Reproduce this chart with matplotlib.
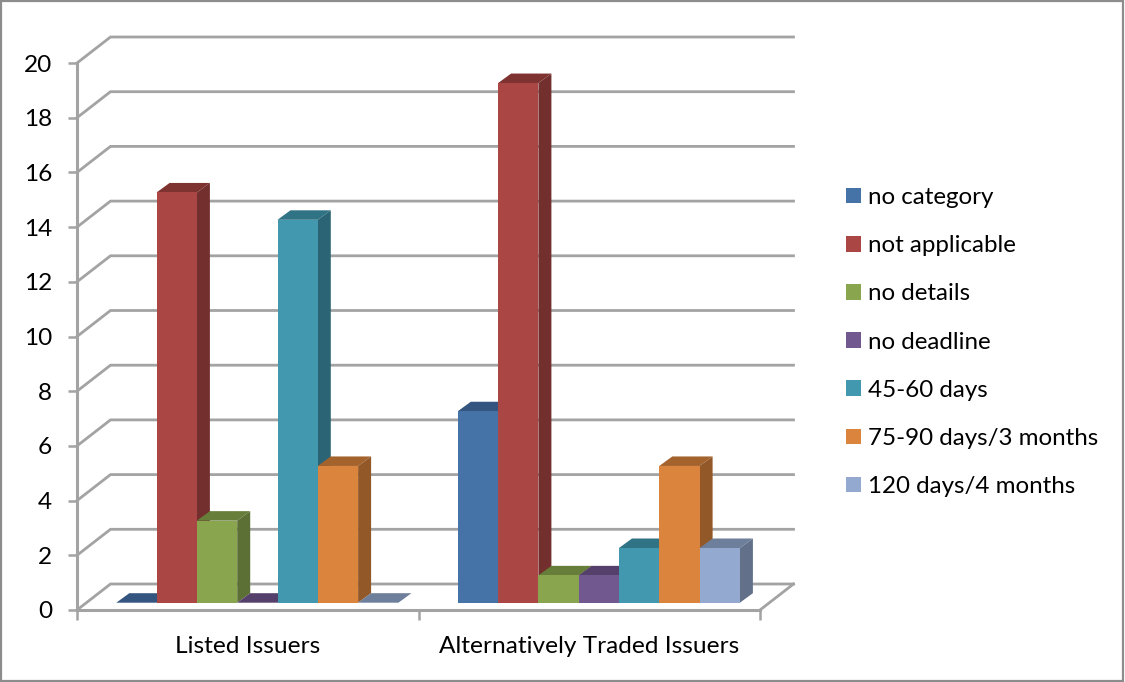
import matplotlib
matplotlib.use("Agg")
import matplotlib.pyplot as plt
from matplotlib.patches import Rectangle

categories = ["Listed Issuers", "Alternatively Traded Issuers"]
series_names = ["no category", "not applicable", "no details", "no deadline",
                "45-60 days", "75-90 days/3 months", "120 days/4 months"]
no_category = [0, 7]
not_applicable = [15, 19]
no_details = [3, 1]
no_deadline = [0, 1]
days_45_60 = [14, 2]
days_75_90 = [5, 5]
days_120 = [0, 2]
y_ticks = [0, 2, 4, 6, 8, 10, 12, 14, 16, 18, 20]

W, H = 1125, 682
LEFT, RIGHT, TOP, BOTTOM = 77, 760, 63, 610
GREY = "#a3a3a3"

front_colors = ["#4572a7", "#aa4643", "#89a54e", "#71588f", "#4198af", "#db843d", "#93a9cf"]
side_colors = ["#2e4c70", "#722f2d", "#5c6f35", "#4b3b60", "#2b6575", "#925828", "#627189"]
top_colors = ["#335580", "#7f3331", "#677d3a", "#553f6b", "#307385", "#a4622d", "#6e7f9b"]

plt.rcParams["font.family"] = ["Lato", "DejaVu Sans"]

fig = plt.figure(figsize=(W / 100, H / 100), dpi=100)
ax = fig.add_axes([LEFT / W, 1 - BOTTOM / H, (RIGHT - LEFT) / W, (BOTTOM - TOP) / H])
ax.set_xlim(0, 2)
ax.set_ylim(0, 20)
ax.patch.set_alpha(0)

# fake 3d depth, in data units
px_x = 2 / (RIGHT - LEFT)
px_y = 20 / (BOTTOM - TOP)
wall_dx, wall_dy = 33.5 * px_x, 26 * px_y
depth_dx, depth_dy = 13 * px_x, 9.5 * px_y
bar_shift_x, bar_base = 9.6 * px_x, 7.3 * px_y
bar_w = 40.3 * px_x

# back wall and floor
for v in y_ticks:
    ax.plot([0, wall_dx, 2 + wall_dx], [v, v + wall_dy, v + wall_dy], color=GREY,
            lw=2.0, clip_on=False, zorder=1, solid_joinstyle="miter")
ax.plot([2, 2 + wall_dx], [0, wall_dy], color=GREY, lw=2.0, clip_on=False, zorder=1)

all_series = [no_category, not_applicable, no_details, no_deadline,
              days_45_60, days_75_90, days_120]
handles = []
for i, values in enumerate(all_series):
    xs = [c + 0.5 + bar_shift_x + (i - 3) * bar_w for c in range(len(categories))]
    z = 3 + i
    for x, v in zip(xs, values):
        l, r, t = x - bar_w / 2, x + bar_w / 2, v + bar_base
        ax.fill([l, l + depth_dx, r + depth_dx, r], [t, t + depth_dy, t + depth_dy, t],
                color=top_colors[i], lw=0, clip_on=False, zorder=z)
        if v > 0:
            ax.fill([r, r + depth_dx, r + depth_dx, r],
                    [bar_base, bar_base + depth_dy, t + depth_dy, t],
                    color=side_colors[i], lw=0, clip_on=False, zorder=z)
    bars = ax.bar(xs, values, width=bar_w, bottom=bar_base, color=front_colors[i],
                  label=series_names[i], clip_on=False, zorder=z + 0.5)
    handles.append(bars)

for s in ["top", "right"]:
    ax.spines[s].set_visible(False)
for s in ["left", "bottom"]:
    ax.spines[s].set_color(GREY)
    ax.spines[s].set_linewidth(2.2)
    ax.spines[s].set_zorder(2)

ax.set_yticks(y_ticks)
ax.set_xticks([0.5, 1.5])
ax.set_xticklabels(categories)
ax.set_xticks([0, 1, 2], minor=True)
ax.tick_params(axis="y", length=6.5, width=1.8, color=GREY, labelsize=17.6, pad=11.5, labelcolor="black")
ax.tick_params(axis="x", which="major", length=0, labelsize=17.6, pad=18.5, labelcolor="black")
ax.tick_params(axis="x", which="minor", length=7, width=1.8, color=GREY)

fig.legend(handles=handles, loc="upper left", bbox_to_anchor=(846 / W, 1 - 187 / H),
           frameon=False, fontsize=17.4, handlelength=0.62, handleheight=0.62,
           handletextpad=0.3, labelspacing=1.125, borderpad=0, borderaxespad=0)

fig.add_artist(Rectangle((0.001, 0.002), 0.997, 0.996, transform=fig.transFigure,
                         fill=False, edgecolor="#8c8c8c", lw=1.6))

fig.savefig("out.png", dpi=100, facecolor="white")
